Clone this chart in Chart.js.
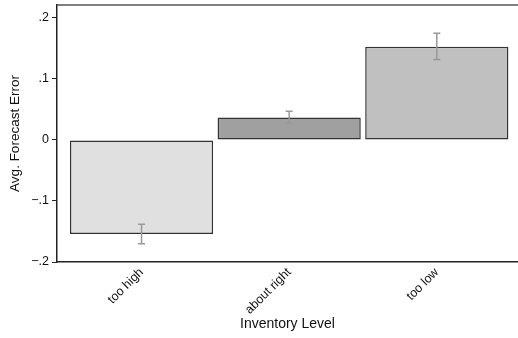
<!DOCTYPE html>
<html>
<head>
<meta charset="utf-8">
<script src="https://cdn.jsdelivr.net/npm/chart.js@4/dist/chart.umd.min.js"></script>
<style>
  html, body { margin: 0; padding: 0; background: #fff; }
  canvas { display: block; }
</style>
</head>
<body>
<canvas id="chart" width="518" height="338"></canvas>
<script>
const categories = ['too high', 'about right', 'too low'];
const meanError = [-0.154, 0.037, 0.153];
const errLow = [-0.170, 0.028, 0.132];
const errHigh = [-0.138, 0.047, 0.175];
const barColors = ['#e0e0e0', '#a0a0a0', '#c0c0c0'];
const yTickValues = [-0.2, -0.1, 0, 0.1, 0.2];

function formatTick(value) {
  if (Math.abs(value) < 1e-9) return '0';
  const text = Math.abs(value).toFixed(1).replace(/^0/, '');
  return value < 0 ? '\u2212' + text : text;
}

// error bars + top frame line, positioned through the chart scales
const errorBarPlugin = {
  id: 'errorBars',
  afterDatasetsDraw(chart) {
    const { ctx, scales, chartArea } = chart;
    ctx.save();
    ctx.strokeStyle = '#555';
    ctx.lineWidth = 1.5;
    ctx.beginPath();
    ctx.moveTo(chartArea.left, chartArea.top);
    ctx.lineTo(chartArea.right, chartArea.top);
    ctx.stroke();

    ctx.strokeStyle = '#999';
    ctx.lineWidth = 1.5;
    categories.forEach((_, i) => {
      const x = scales.x.getPixelForValue(i);
      const yLo = scales.y.getPixelForValue(errLow[i]);
      const yHi = scales.y.getPixelForValue(errHigh[i]);
      ctx.beginPath();
      ctx.moveTo(x, yLo);
      ctx.lineTo(x, yHi);
      ctx.moveTo(x - 3.5, yLo);
      ctx.lineTo(x + 3.5, yLo);
      ctx.moveTo(x - 3.5, yHi);
      ctx.lineTo(x + 3.5, yHi);
      ctx.stroke();
    });
    ctx.restore();
  },
};

new Chart(document.getElementById('chart'), {
  type: 'bar',
  data: {
    datasets: [{
      data: meanError.map((v, i) => ({ x: i, y: v })),
      backgroundColor: barColors,
      borderColor: '#333',
      borderWidth: 1.5,
      borderSkipped: false,
      barPercentage: 0.97,
      categoryPercentage: 1,
    }],
  },
  options: {
    responsive: false,
    animation: false,
    layout: { padding: { top: 5, right: 0, left: 0, bottom: 0 } },
    plugins: { legend: { display: false }, tooltip: { enabled: false } },
    scales: {
      x: {
        type: 'linear',
        offset: false,
        min: -0.5725,
        max: 2.55,
        afterBuildTicks: (scale) => {
          scale.ticks = categories.map((_, i) => ({ value: i }));
        },
        afterFit: (scale) => {
          scale.height = 76;
          scale.paddingLeft = 0;
          scale.paddingRight = 0;
        },
        ticks: {
          autoSkip: false,
          minRotation: 45,
          maxRotation: 45,
          padding: 3,
          color: '#111',
          font: { family: 'Liberation Sans', size: 12.5 },
          callback: (value) => categories[value] ?? '',
        },
        grid: { display: false, drawTicks: false, offset: false },
        border: { color: '#222', width: 1.5 },
        title: {
          display: true,
          text: 'Inventory Level',
          color: '#111',
          font: { family: 'Liberation Sans', size: 14 },
          padding: { top: 0, bottom: 5 },
        },
      },
      y: {
        min: -0.2,
        max: 0.2213,
        afterBuildTicks: (scale) => {
          scale.ticks = yTickValues.map((v) => ({ value: v }));
        },
        afterFit: (scale) => {
          scale.width = 57;
          scale.paddingTop = 0;
          scale.paddingBottom = 0;
        },
        ticks: {
          padding: 3,
          color: '#111',
          font: { family: 'Liberation Sans', size: 12.5 },
          callback: (value) => formatTick(value),
        },
        grid: { drawOnChartArea: false, drawTicks: true, tickLength: 5, color: '#222', tickWidth: 1 },
        border: { color: '#222', width: 1.5 },
        title: {
          display: true,
          text: 'Avg. Forecast Error',
          color: '#111',
          font: { family: 'Liberation Sans', size: 13.5 },
          padding: { top: 7, bottom: 0 },
        },
      },
    },
  },
  plugins: [errorBarPlugin],
});
</script>
</body>
</html>
